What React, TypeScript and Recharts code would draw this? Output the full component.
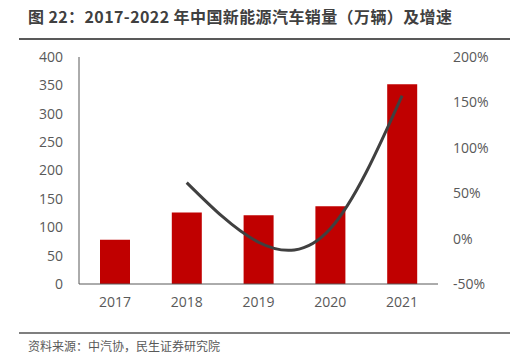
import { ComposedChart, Bar, Line, XAxis, YAxis } from "recharts";

const years = ["2017", "2018", "2019", "2020", "2021"];
const sales = [78, 126, 121, 137, 352];
const growth = [null, 61.7, -4, 10.9, 157.5];
const salesTicks = [0, 50, 100, 150, 200, 250, 300, 350, 400];
const growthTicks = [-50, 0, 50, 100, 150, 200];

const data = years.map((y, i) => ({ year: y, sales: sales[i], growth: growth[i] }));

const font = "'Open Sans', 'Noto Sans CJK SC', sans-serif";
const textColor = "#595959";

const App = () => {
  return (
    <div
      style={{
        position: "absolute",
        left: 0,
        top: 0,
        width: 524,
        height: 356,
        background: "#fff",
        fontFamily: font,
      }}
    >
      <div
        style={{
          position: "absolute",
          left: 28,
          top: 4,
          fontSize: 16,
          fontWeight: "bold",
          letterSpacing: 0.4,
          color: "#404040",
          fontFamily: "'Noto Sans CJK SC', sans-serif",
          whiteSpace: "nowrap",
        }}
      >
        图 22：2017-2022 年中国新能源汽车销量（万辆）及增速
      </div>
      <div style={{ position: "absolute", left: 19, top: 38, width: 491, height: 2, background: "#595959" }} />
      <ComposedChart
        width={524}
        height={356}
        data={data}
        margin={{ top: 57, right: 0, bottom: 40, left: 0 }}
        style={{ position: "absolute", left: 0, top: 0 }}
      >
        <XAxis
          dataKey="year"
          height={32}
          tickLine={false}
          tickMargin={7}
          axisLine={{ stroke: "#595959" }}
          tick={{ fill: textColor, fontSize: 14, fontFamily: font }}
        />
        <YAxis
          yAxisId="left"
          width={79}
          domain={[0, 400]}
          ticks={salesTicks}
          interval={0}
          tickLine={false}
          tickMargin={10}
          axisLine={{ stroke: "#595959" }}
          tick={{ fill: textColor, fontSize: 14, fontFamily: font }}
        />
        <YAxis
          yAxisId="right"
          orientation="right"
          width={86}
          domain={[-50, 200]}
          ticks={growthTicks}
          interval={0}
          tickLine={false}
          tickMargin={9}
          axisLine={false}
          tickFormatter={(v) => `${v}%`}
          tick={{ fill: textColor, fontSize: 14, fontFamily: font, textAnchor: "start" }}
        />
        <Bar yAxisId="left" dataKey="sales" fill="#C00000" barSize={30} isAnimationActive={false} />
        <Line
          yAxisId="right"
          dataKey="growth"
          type="natural"
          stroke="#404040"
          strokeWidth={3}
          dot={false}
          connectNulls
          isAnimationActive={false}
        />
      </ComposedChart>
      <div style={{ position: "absolute", left: 19, top: 332, width: 491, height: 2, background: "#7f7f7f" }} />
      <div
        style={{
          position: "absolute",
          left: 28,
          top: 337,
          fontSize: 12,
          color: textColor,
          fontFamily: "'Noto Sans CJK SC', sans-serif",
          whiteSpace: "nowrap",
        }}
      >
        资料来源：中汽协，民生证券研究院
      </div>
    </div>
  );
};

export default App;
